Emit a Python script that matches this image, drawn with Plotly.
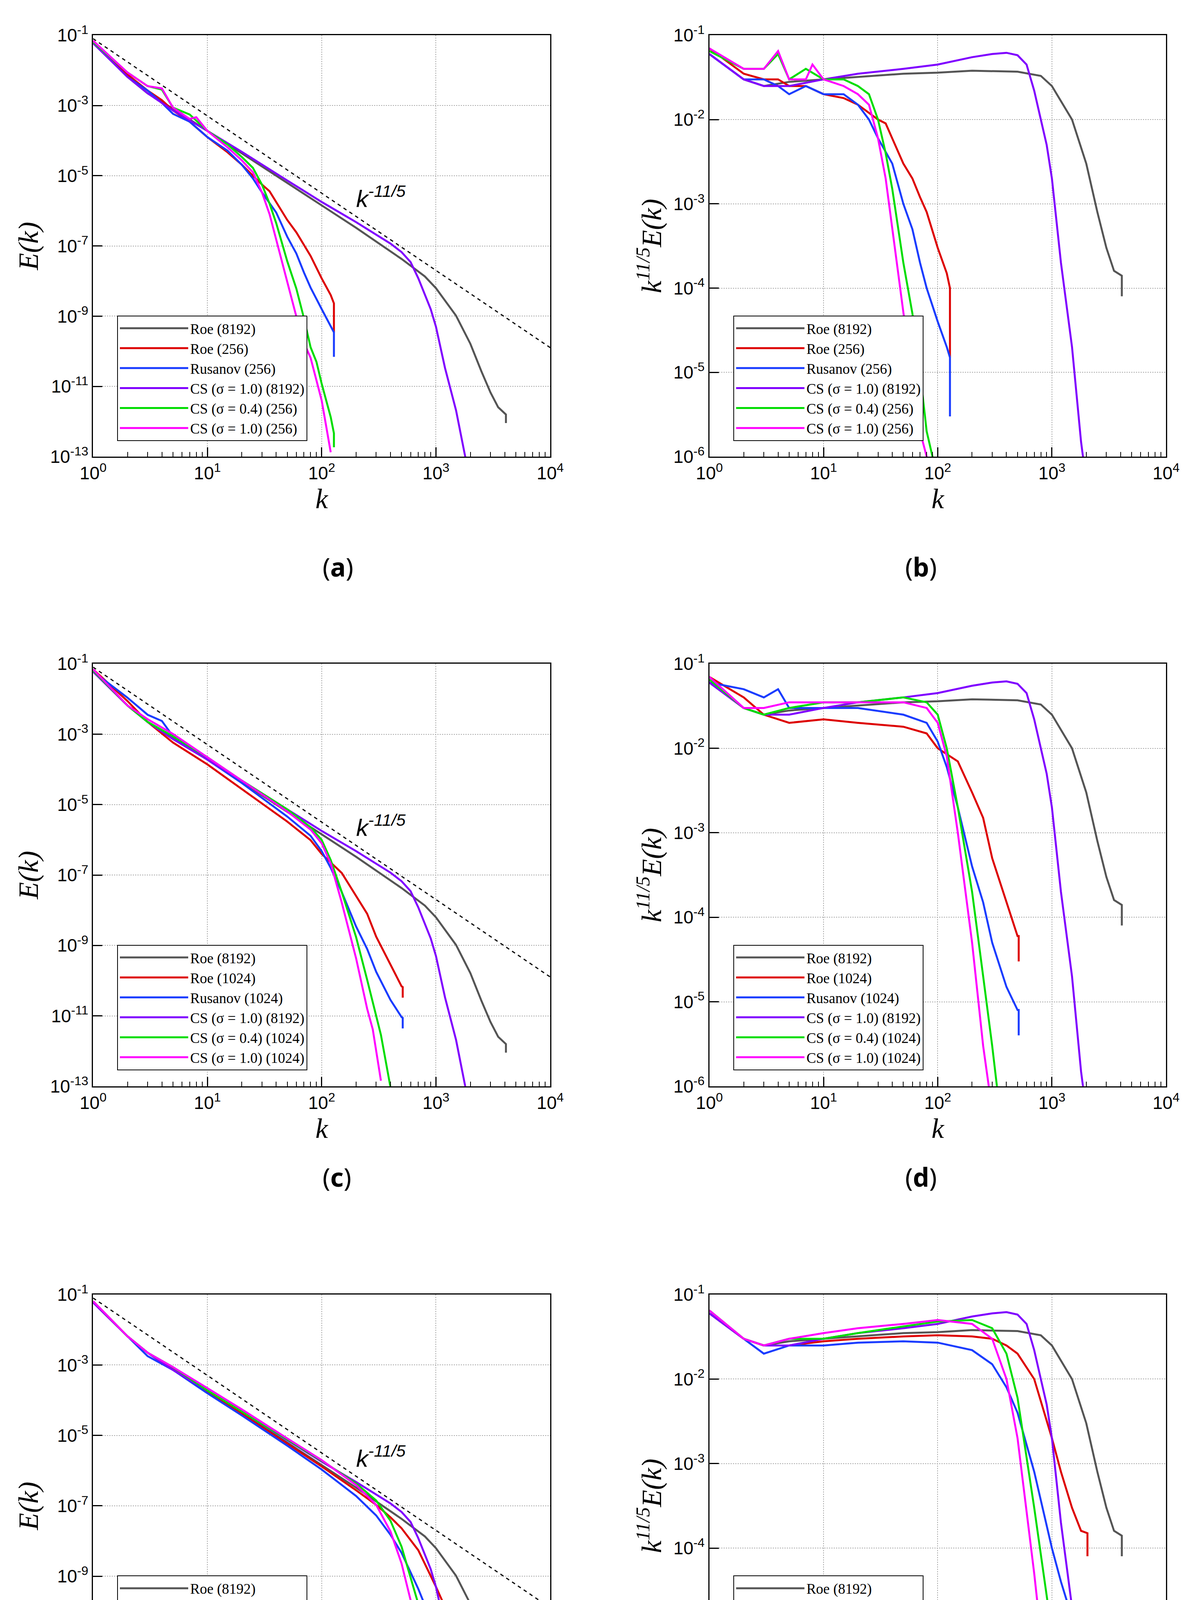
import numpy as np
import plotly.graph_objects as go

# ---- Compensated spectra k^(11/5) E(k) ----
# shared reference runs (8192)
k_roe8192 = [1, 2, 3, 5, 10, 20, 50, 100, 200, 500, 800, 1000, 1500, 2000, 2500, 3000, 3500, 4096, 4096]
c_roe8192 = [0.06, 0.03, 0.025, 0.028, 0.03, 0.032, 0.035, 0.036, 0.038, 0.037, 0.033, 0.025, 0.01, 0.003, 0.0008, 0.0003, 0.00016, 0.00014, 0.00008]
k_cs8192 = [1, 2, 3, 5, 10, 20, 50, 100, 200, 300, 400, 500, 600, 700, 800, 900, 1000, 1200, 1500, 1800, 2000]
c_cs8192 = [0.06, 0.03, 0.025, 0.025, 0.03, 0.035, 0.04, 0.045, 0.055, 0.06, 0.062, 0.058, 0.045, 0.022, 0.01, 0.005, 0.002, 2e-4, 2e-5, 1.5e-6, 5e-7]

# (a)/(b): 256
k_roe256 = [1, 2, 3, 4, 5, 7, 10, 15, 20, 25, 30, 35, 40, 50, 60, 70, 80, 100, 120, 128, 128]
c_roe256 = [0.07, 0.035, 0.03, 0.03, 0.025, 0.025, 0.02, 0.018, 0.015, 0.012, 0.01, 0.009, 0.006, 0.003, 0.002, 0.0012, 0.0008, 0.0003, 0.00015, 0.0001, 1.5e-5]
k_rus256 = [1, 2, 3, 4, 5, 7, 10, 15, 20, 25, 30, 40, 50, 60, 70, 80, 100, 120, 128, 128]
c_rus256 = [0.06, 0.03, 0.03, 0.025, 0.02, 0.025, 0.02, 0.02, 0.015, 0.01, 0.006, 0.003, 0.001, 5e-4, 2e-4, 1e-4, 4e-5, 2e-5, 1.5e-5, 3e-6]
k_cs04_256 = [1, 2, 3, 4, 5, 7, 10, 15, 20, 25, 30, 35, 40, 50, 60, 70, 80, 90, 100, 120, 128, 128]
c_cs04_256 = [0.065, 0.04, 0.04, 0.06, 0.03, 0.04, 0.03, 0.03, 0.025, 0.02, 0.01, 0.004, 0.0015, 2e-4, 5e-5, 1e-5, 2e-6, 1e-6, 3e-7, 5e-8, 2e-8, 8e-9]
k_cs10_256 = [1, 2, 3, 4, 5, 7, 8, 10, 15, 20, 25, 30, 35, 40, 50, 60, 70, 80, 100, 120]
c_cs10_256 = [0.07, 0.04, 0.04, 0.065, 0.03, 0.03, 0.045, 0.03, 0.025, 0.02, 0.015, 0.006, 0.002, 5e-4, 5e-5, 8e-6, 2e-6, 1e-6, 1e-7, 5e-9]

# (c)/(d): 1024
k_roe1024 = [1, 2, 3, 5, 10, 20, 50, 80, 100, 150, 200, 250, 300, 400, 500, 512, 512]
c_roe1024 = [0.07, 0.04, 0.025, 0.02, 0.022, 0.02, 0.018, 0.015, 0.01, 0.007, 0.003, 0.0015, 5e-4, 1.5e-4, 6e-5, 6e-5, 3e-5]
k_rus1024 = [1, 2, 3, 4, 5, 10, 20, 50, 80, 100, 120, 150, 200, 250, 300, 400, 500, 512, 512]
c_rus1024 = [0.06, 0.05, 0.04, 0.05, 0.03, 0.03, 0.03, 0.025, 0.02, 0.012, 0.006, 0.002, 4e-4, 1.5e-4, 5e-5, 1.5e-5, 8e-6, 8e-6, 4e-6]
k_cs04_1024 = [1, 2, 3, 5, 10, 20, 50, 80, 100, 120, 150, 200, 250, 300, 330, 400]
c_cs04_1024 = [0.065, 0.03, 0.025, 0.03, 0.035, 0.035, 0.04, 0.035, 0.025, 0.01, 0.002, 2e-4, 2e-5, 3e-6, 1e-6, 5e-8]
k_cs10_1024 = [1, 2, 3, 5, 10, 20, 50, 80, 100, 120, 150, 200, 250, 280, 330]
c_cs10_1024 = [0.07, 0.03, 0.03, 0.035, 0.035, 0.035, 0.035, 0.03, 0.02, 0.008, 1e-3, 5e-5, 3e-6, 1e-6, 5e-8]

# (e)/(f): 4096
k_roe4096 = [1, 2, 3, 5, 10, 20, 50, 100, 200, 300, 400, 500, 700, 1000, 1200, 1500, 1800, 2048, 2048]
c_roe4096 = [0.06, 0.03, 0.025, 0.025, 0.028, 0.03, 0.032, 0.033, 0.032, 0.03, 0.025, 0.02, 0.01, 0.002, 8e-4, 3e-4, 1.6e-4, 1.5e-4, 8e-5]
k_rus4096 = [1, 2, 3, 5, 10, 20, 50, 100, 200, 300, 400, 500, 700, 1000, 1200, 1500, 1800, 2048, 2048]
c_rus4096 = [0.06, 0.03, 0.02, 0.025, 0.025, 0.027, 0.028, 0.027, 0.022, 0.015, 0.008, 0.004, 8e-4, 1e-4, 4e-5, 1.5e-5, 1e-5, 9e-6, 5e-6]
k_cs04_4096 = [1, 2, 3, 5, 10, 20, 50, 100, 200, 300, 400, 500, 700, 1000, 1150, 1250]
c_cs04_4096 = [0.065, 0.03, 0.025, 0.03, 0.03, 0.035, 0.042, 0.048, 0.05, 0.04, 0.02, 0.006, 3e-4, 1e-5, 1e-6, 4e-7]
k_cs10_4096 = [1, 2, 3, 5, 10, 20, 50, 100, 200, 300, 400, 500, 700, 900, 1000]
c_cs10_4096 = [0.065, 0.03, 0.025, 0.03, 0.035, 0.04, 0.045, 0.05, 0.045, 0.03, 0.01, 0.002, 5e-5, 2e-6, 6e-7]

ref_k = [1, 10000]
ref_c = 0.08
slope = -11 / 5

COL = dict(roe8="#555555", roe="#dd0000", rus="#1a3cff",
           cs8="#8000ff", cs04="#00dd00", cs10="#ff00ff")

panels = [
    ("256", (k_roe256, c_roe256), (k_rus256, c_rus256), (k_cs04_256, c_cs04_256), (k_cs10_256, c_cs10_256)),
    ("1024", (k_roe1024, c_roe1024), (k_rus1024, c_rus1024), (k_cs04_1024, c_cs04_1024), (k_cs10_1024, c_cs10_1024)),
    ("4096", (k_roe4096, c_roe4096), (k_rus4096, c_rus4096), (k_cs04_4096, c_cs04_4096), (k_cs10_4096, c_cs10_4096)),
]

W, H = 3068, 4709
xd = [(200 / W, 1398 / W), (1815 / W, 3012 / W)]
yd = [(1 - 1143 / H, 1 - 51 / H), (1 - 2775 / H, 1 - 1680 / H), (1 - 4410 / H, 1 - 3315 / H)]
lab_y = [1 - 1380 / H, 1 - 3009 / H, 1 - 4644 / H]
letters = ["a", "b", "c", "d", "e", "f"]
minor_x = [m * 10 ** e for e in range(4) for m in range(2, 10)]

fig = go.Figure()
SERIF = "Liberation Serif"
SANS = "Liberation Sans"
layout = dict(width=W, height=H, margin=dict(l=0, r=0, t=0, b=0),
              paper_bgcolor="white", plot_bgcolor="white", showlegend=True)
annotations = []

idx = 0
for r, (res, roe, rus, cs04, cs10) in enumerate(panels):
    series = [("Roe (8192)", (k_roe8192, c_roe8192), COL["roe8"]),
              (f"Roe ({res})", roe, COL["roe"]),
              (f"Rusanov ({res})", rus, COL["rus"]),
              ("CS (σ = 1.0) (8192)", (k_cs8192, c_cs8192), COL["cs8"]),
              (f"CS (σ = 0.4) ({res})", cs04, COL["cs04"]),
              (f"CS (σ = 1.0) ({res})", cs10, COL["cs10"])]
    for c in range(2):
        idx += 1
        ax = "" if idx == 1 else str(idx)
        leg = "legend" if idx == 1 else f"legend{idx}"
        for name, (kk, cc), col in series:
            kk = np.array(kk, float)
            cc = np.array(cc, float)
            yy = cc * kk ** slope if c == 0 else cc
            fig.add_trace(go.Scatter(x=kk, y=yy, mode="lines", name=name, line=dict(color=col, width=5),
                                     xaxis="x" + ax, yaxis="y" + ax, legend=leg))
        if c == 0:
            rk = np.array(ref_k, float)
            fig.add_trace(go.Scatter(x=rk, y=ref_c * rk ** slope, mode="lines", showlegend=False,
                                     line=dict(color="black", width=3, dash="dash"),
                                     xaxis="x" + ax, yaxis="y" + ax))
            annotations.append(dict(x=np.log10(330), y=np.log10(2.5e-6), xref="x" + ax, yref="y" + ax,
                                    text="<i>k</i><sup><i>-11/5</i></sup>", showarrow=False,
                                    font=dict(family=SANS, size=62, color="black")))
        if c == 0:
            yt = [-13, -11, -9, -7, -5, -3, -1]
            yr = [-13, -1]
            ytitle = "<i>E(k)</i>"
        else:
            yt = [-6, -5, -4, -3, -2, -1]
            yr = [-6, -1]
            ytitle = "<i>k</i><sup><i>11/5</i></sup><i>E(k)</i>"
        layout["xaxis" + ax] = dict(type="log", range=[0, 4], domain=xd[c], anchor="y" + ax,
                                    tickvals=[1, 10, 100, 1000, 10000],
                                    ticktext=["10<sup>0</sup>", "10<sup>1</sup>", "10<sup>2</sup>", "10<sup>3</sup>", "10<sup>4</sup>"],
                                    ticks="inside", ticklen=24, tickwidth=3, tickcolor="black",
                                    minor=dict(tickvals=minor_x, ticks="inside", ticklen=12, tickwidth=2,
                                               tickcolor="black", showgrid=False),
                                    showgrid=True, gridcolor="#aaaaaa", griddash="dot", gridwidth=2,
                                    showline=True, linecolor="black", linewidth=3, mirror=True,
                                    tickfont=dict(family=SANS, size=46, color="black"),
                                    title=dict(text="<i>k</i>", font=dict(family=SERIF, size=72, color="black"), standoff=15))
        layout["yaxis" + ax] = dict(type="log", range=yr, domain=yd[r], anchor="x" + ax,
                                    tickvals=[10.0 ** v for v in yt],
                                    ticktext=[f"10<sup>{v}</sup>" for v in yt],
                                    ticks="inside", ticklen=24, tickwidth=3, tickcolor="black",
                                    showgrid=True, gridcolor="#aaaaaa", griddash="dot", gridwidth=2,
                                    showline=True, linecolor="black", linewidth=3, mirror=True,
                                    tickfont=dict(family=SANS, size=46, color="black"),
                                    title=dict(text=ytitle, font=dict(family=SERIF, size=72, color="black"), standoff=8))
        y0, y1 = yd[r]
        layout[leg] = dict(x=(263 if c == 0 else 1878) / W, y=y0 + 0.335 * (y1 - y0), xanchor="left", yanchor="top",
                           bgcolor="white", bordercolor="black", borderwidth=2,
                           font=dict(family=SERIF, size=37, color="black"), itemwidth=175,
                           tracegroupgap=0)
        annotations.append(dict(x=sum(xd[c]) / 2, y=lab_y[r], xref="paper", yref="paper",
                                text=f"(<b>{letters[idx-1]}</b>)", showarrow=False,
                                font=dict(family="Noto Sans", size=66, color="black")))

layout["annotations"] = annotations
fig.update_layout(**layout)
fig.write_html("out.html")
